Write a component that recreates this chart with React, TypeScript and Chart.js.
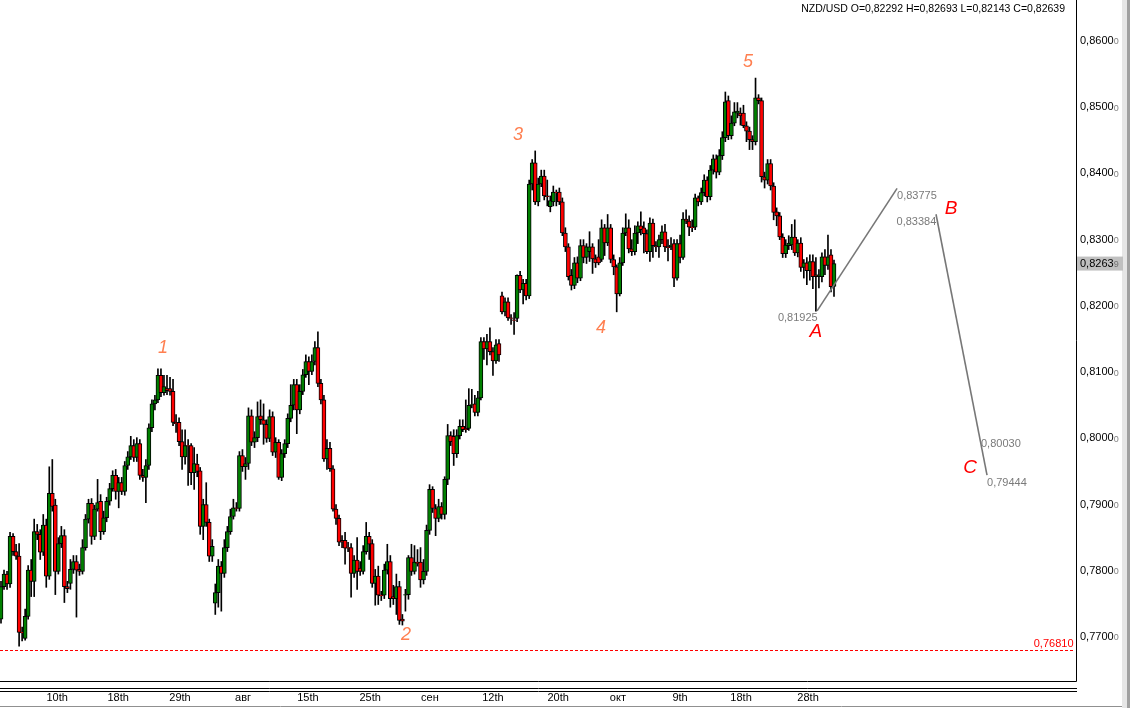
import React, { useEffect, useRef } from "react";
import { Chart, registerables } from "chart.js";

Chart.register(...registerables);

// ---- candle data (prices in pips, /10000) ----
const opens = [
7727,7776,7795,7780,7852,7829,7822,7707,7698,7731,
7801,7784,7859,7855,7828,7869,7792,7917,7899,7799,
7841,7853,7776,7781,7802,7814,7802,7799,7835,7878,
7902,7852,7893,7905,7859,7880,7905,7924,7944,7920,
7933,7920,7959,7972,7989,7971,7992,7944,7941,7959,
8016,8052,8058,8095,8069,8075,8075,8071,8024,8024,
7995,7972,7989,7989,7948,7961,7951,7867,7900,7873,
7822,7751,7767,7807,7796,7835,7859,7882,7895,7894,
7974,7957,7962,8034,7994,8001,8034,8028,8021,8000,
8033,7979,7994,7941,7977,7992,8030,8050,8081,8043,
8071,8096,8116,8101,8116,8137,8083,8058,7969,7985,
7954,7893,7879,7846,7846,7835,7835,7796,7816,7804,
7799,7829,7852,7841,7781,7792,7763,7763,7801,7814,
7761,7758,7776,7727,7763,7764,7820,7799,7813,7813,
7786,7799,7861,7923,7894,7879,7897,7885,7938,8004,
8003,7977,8004,8018,8015,8015,8050,8052,8039,8061,
8146,8135,8146,8131,8117,8143,8215,8191,8206,8182,
8179,8181,8246,8224,8234,8215,8384,8416,8357,8384,
8396,8366,8350,8357,8372,8372,8357,8310,8289,8246,
8231,8265,8242,8291,8273,8282,8289,8271,8274,8270,
8318,8295,8318,8270,8259,8218,8265,8310,8318,8286,
8282,8310,8321,8318,8309,8282,8325,8291,8289,8300,
8312,8289,8289,8294,8242,8294,8273,8331,8328,8319,
8319,8363,8357,8371,8390,8365,8405,8422,8402,8427,
8454,8510,8457,8476,8491,8491,8491,8472,8464,8451,
8448,8514,8510,8395,8390,8415,8381,8342,8336,8304,
8279,8291,8292,8304,8280,8295,8258,8265,8253,8267,
8247,8244,8244,8274,8261,8277,8229.2
];
const highs = [
7784,7801,7799,7858,7856,7840,7841,7715,7742,7808,
7817,7878,7870,7862,7885,7878,7957,7968,7908,7850,
7867,7862,7784,7817,7823,7823,7810,7847,7885,7908,
7909,7899,7938,7915,7890,7911,7932,7951,7953,7941,
7941,7965,7980,8003,7998,8001,7998,7953,7968,8022,
8058,8065,8105,8105,8095,8095,8092,8089,8036,8031,
8013,8013,7998,7992,7986,7976,7956,7908,7933,7878,
7847,7780,7817,7814,7847,7867,7893,7908,7903,7980,
7983,7971,8046,8043,8010,8055,8058,8052,8028,8043,
8040,8001,7998,7983,7998,8037,8081,8089,8089,8081,
8104,8126,8123,8126,8146,8161,8089,8065,7998,7994,
7959,7900,7884,7853,7858,7843,7841,7823,7850,7814,
7838,7873,7858,7847,7802,7807,7769,7810,7840,7823,
7778,7795,7784,7734,7772,7823,7840,7838,7832,7835,
7817,7869,7930,7927,7900,7908,7903,7942,8021,8010,
8013,8013,8028,8028,8058,8075,8074,8065,8071,8152,
8152,8157,8167,8137,8149,8149,8221,8212,8212,8187,
8190,8247,8252,8240,8240,8390,8421,8434,8393,8405,
8405,8390,8366,8381,8375,8378,8363,8318,8294,8255,
8273,8274,8300,8300,8294,8312,8294,8277,8300,8330,
8323,8338,8323,8277,8262,8273,8318,8339,8330,8300,
8321,8327,8342,8327,8315,8333,8331,8297,8307,8321,
8323,8300,8303,8300,8300,8307,8341,8345,8336,8330,
8369,8366,8378,8398,8395,8412,8428,8428,8436,8463,
8523,8517,8487,8507,8507,8499,8503,8478,8470,8457,
8544,8519,8514,8402,8421,8421,8386,8348,8341,8309,
8300,8306,8323,8330,8300,8303,8270,8273,8277,8277,
8273,8255,8280,8285,8307,8285,8269.3
];
const lows = [
7721,7772,7772,7775,7823,7817,7686,7694,7695,7727,
7761,7761,7847,7817,7823,7775,7787,7890,7764,7795,
7835,7752,7767,7772,7796,7730,7793,7795,7831,7872,
7840,7847,7890,7847,7855,7874,7899,7920,7908,7895,
7915,7914,7953,7968,7965,7965,7938,7935,7903,7953,
8010,8043,8054,8063,8065,8066,8065,8019,8009,7989,
7953,7961,7929,7930,7923,7942,7855,7847,7867,7814,
7814,7734,7745,7739,7790,7829,7855,7878,7890,7890,
7950,7938,7953,7989,7986,7995,8021,7991,7994,7995,
7974,7971,7938,7936,7971,7986,8025,8043,8007,8037,
8066,8092,8081,8096,8111,8078,8052,7965,7953,7950,
7890,7870,7838,7835,7810,7829,7760,7790,7772,7793,
7795,7825,7817,7775,7748,7749,7755,7758,7795,7745,
7749,7734,7719,7718,7739,7757,7793,7795,7807,7775,
7780,7793,7855,7888,7853,7874,7878,7878,7930,7989,
7959,7971,7999,8010,8009,8012,8046,8034,8034,8058,
8119,8111,8126,8095,8113,8116,8188,8185,8178,8172,
8157,8176,8220,8203,8209,8211,8375,8353,8351,8380,
8360,8351,8342,8351,8351,8353,8306,8282,8239,8224,
8226,8235,8238,8265,8264,8267,8249,8258,8262,8267,
8276,8291,8265,8247,8191,8215,8261,8306,8280,8276,
8277,8294,8307,8280,8279,8267,8273,8282,8273,8294,
8282,8268,8285,8229,8239,8265,8270,8324,8306,8312,
8315,8351,8353,8366,8357,8360,8399,8393,8398,8421,
8448,8451,8452,8472,8484,8473,8469,8448,8436,8436,
8443,8505,8387,8378,8384,8375,8330,8321,8300,8273,
8273,8285,8285,8276,8274,8252,8242,8232,8239,8226,
8192,8227,8236,8247,8255,8221,8214.3
];
const closes = [
7776,7795,7780,7852,7829,7822,7707,7706,7731,7801,
7784,7859,7855,7828,7869,7792,7917,7897,7799,7841,
7853,7776,7773,7802,7814,7801,7799,7835,7878,7902,
7852,7893,7903,7859,7880,7905,7924,7944,7920,7933,
7920,7959,7972,7989,7971,7992,7944,7941,7959,8016,
8052,8058,8095,8069,8078,8072,8071,8024,8022,7995,
7972,7989,7988,7948,7962,7950,7867,7900,7873,7822,
7837,7767,7807,7796,7835,7859,7882,7895,7894,7974,
7957,7962,8034,7994,8001,8033,8028,8021,8000,8033,
7979,7994,7941,7977,7992,8030,8050,8081,8043,8071,
8096,8116,8101,8116,8137,8083,8058,7969,7985,7954,
7893,7879,7843,7843,7834,7834,7796,7816,7799,7799,
7829,7852,7840,7781,7792,7763,7762,7801,7814,7758,
7758,7776,7725,7724,7764,7820,7799,7813,7811,7786,
7799,7861,7923,7894,7879,7897,7885,7938,8004,7995,
7977,8004,8018,8013,8013,8050,8051,8039,8061,8146,
8135,8146,8131,8117,8141,8126,8191,8206,8182,8181,
8178,8246,8224,8234,8215,8384,8416,8357,8384,8396,
8366,8365,8359,8372,8371,8357,8310,8289,8244,8231,
8265,8242,8291,8273,8289,8289,8271,8265,8265,8318,
8295,8318,8270,8259,8218,8265,8310,8318,8286,8282,
8310,8321,8315,8309,8282,8325,8291,8289,8300,8312,
8289,8288,8292,8242,8294,8273,8331,8328,8319,8318,
8363,8357,8371,8390,8365,8405,8422,8402,8427,8454,
8508,8457,8476,8493,8494,8487,8472,8464,8451,8448,
8514,8510,8395,8390,8415,8381,8341,8336,8304,8279,
8292,8295,8304,8280,8295,8258,8265,8253,8267,8244,
8244,8247,8274,8261,8274,8229,8263.9
];

// ---- axis ticks ----
const yTicks = [0.77, 0.78, 0.79, 0.8, 0.81, 0.82, 0.83, 0.84, 0.85, 0.86];
const xTickLabels = ["10th", "18th", "29th", "авг", "15th", "25th", "сен", "12th", "20th", "окт", "9th", "18th", "28th"];
const xTickPos = [18.6, 38.8, 59.3, 80.2, 101.7, 122.3, 142.1, 163.0, 184.6, 204.4, 225.0, 245.2, 267.4];

// ---- annotations ----
const waveText = ["1", "2", "3", "4", "5", "A", "B", "C"];
const waveIdx = [53.7, 134.2, 171.3, 198.8, 247.5, 270.0, 314.8, 321.1];
const wavePrice = [0.814, 0.7706, 0.8461, 0.8169, 0.8571, 0.8164, 0.835, 0.7959];
const waveColor = ["#FF7F50", "#FF7F50", "#FF7F50", "#FF7F50", "#FF7F50", "#FF0000", "#FF0000", "#FF0000"];

const projAIdx = [270.4, 296.9];
const projAPrice = [0.81925, 0.83775];
const projBIdx = [309.8, 326.7];
const projBPrice = [0.83384, 0.79444];

const levelText = ["0,81925", "0,83775", "0,83384", "0,80030", "0,79444"];
const levelIdx = [270.6, 296.9, 309.9, 324.7, 326.7];
const levelPrice = [0.81925, 0.83775, 0.83384, 0.8003, 0.79444];
const levelAlign = ["right", "left", "right", "left", "left"];

const supportLevel = 0.7681;
const header = "NZD/USD O=0,82292 H=0,82693 L=0,82143 C=0,82639";
const lastPrice = 0.82639;

const FONT = '"Liberation Sans", Arial, sans-serif';

export default function App() {
  const ref = useRef<HTMLCanvasElement | null>(null);

  useEffect(() => {
    document.body.style.margin = "0";
    const canvas = ref.current;
    if (!canvas) return;
    const n = opens.length;
    const step = 833 / (n - 1);
    const xMin = -1 / step;
    const xMax = xMin + 1077 / step;
    const yMax = 0.86 + 41 / 6622;
    const yMin = 0.86 - 641 / 6622;

    const wickData = opens.map((_, i) => ({ x: i, y: [lows[i] / 1e4, highs[i] / 1e4] }));
    const bodyData = opens.map((o, i) => ({ x: i, y: [o / 1e4, closes[i] / 1e4] }));
    const bodyColors = opens.map((o, i) => (closes[i] >= o ? "#008000" : "#FF0000"));

    const overlay = {
      id: "overlay",
      afterDraw(chart: any) {
        const { ctx, chartArea: ca, scales } = chart;
        const x = scales.x;
        const y = scales.y;
        const W = chart.width;
        ctx.save();
        // right grey strip
        ctx.fillStyle = "#e6e6e6";
        ctx.fillRect(W - 16, 0, 5, chart.height);
        ctx.fillStyle = "#a0a0a0";
        ctx.fillRect(W - 11, 0, 3, chart.height);
        // frame
        const r = Math.floor(ca.right) - 0.5;
        const b = Math.floor(ca.bottom) - 0.5;
        ctx.strokeStyle = "#000";
        ctx.lineWidth = 1;
        ctx.beginPath();
        ctx.moveTo(r, 0);
        ctx.lineTo(r, b);
        ctx.lineTo(0, b);
        ctx.moveTo(0, b + 7);
        ctx.lineTo(r + 0.5, b + 7);
        ctx.moveTo(0, b + 10);
        ctx.lineTo(r + 0.5, b + 10);
        ctx.stroke();
        ctx.strokeStyle = "#909090";
        ctx.beginPath();
        ctx.moveTo(0, chart.height - 1.5);
        ctx.lineTo(W - 16, chart.height - 1.5);
        ctx.stroke();

        // support level (dashed red)
        const sy = Math.round(y.getPixelForValue(supportLevel)) + 0.5;
        ctx.strokeStyle = "#FF0000";
        ctx.setLineDash([3, 2]);
        ctx.beginPath();
        ctx.moveTo(0, sy);
        ctx.lineTo(r - 3, sy);
        ctx.stroke();
        ctx.setLineDash([]);

        // grey trailing digits of y labels
        ctx.textBaseline = "middle";
        ctx.textAlign = "left";
        yTicks.forEach((v) => {
          ctx.font = `11px ${FONT}`;
          const w = ctx.measureText(v.toFixed(4).replace(".", ",")).width;
          ctx.font = `9px ${FONT}`;
          ctx.fillStyle = "#808080";
          ctx.fillText("0", ca.right + 3 + w, y.getPixelForValue(v) + 1);
        });

        // current price box
        const py = y.getPixelForValue(lastPrice);
        ctx.fillStyle = "#c0c0c0";
        ctx.fillRect(ca.right, py - 7, 46, 14);
        ctx.font = `11px ${FONT}`;
        const main = lastPrice.toFixed(5).replace(".", ",").slice(0, 6);
        ctx.fillStyle = "#000";
        ctx.fillText(main, ca.right + 3, py);
        const mw = ctx.measureText(main).width;
        ctx.font = `9px ${FONT}`;
        ctx.fillStyle = "#707070";
        ctx.fillText(lastPrice.toFixed(5).slice(-1), ca.right + 3 + mw, py + 1);

        // header
        ctx.font = `10.5px ${FONT}`;
        ctx.fillStyle = "#000";
        ctx.textAlign = "right";
        ctx.fillText(header, 1065, 9);

        // support label
        ctx.font = `11px ${FONT}`;
        ctx.fillStyle = "#FF0000";
        ctx.fillText(supportLevel.toFixed(5).replace(".", ","), r - 3, sy - 7);

        // projection level labels
        ctx.fillStyle = "#7a7a7a";
        levelText.forEach((t, i) => {
          ctx.textAlign = levelAlign[i] as CanvasTextAlign;
          ctx.fillText(t, x.getPixelForValue(levelIdx[i]), y.getPixelForValue(levelPrice[i]) + 7.5);
        });

        // wave labels
        ctx.textAlign = "center";
        waveText.forEach((t, i) => {
          ctx.font = i < 5 ? `italic 18px ${FONT}` : `italic 19px ${FONT}`;
          ctx.fillStyle = waveColor[i];
          ctx.fillText(t, x.getPixelForValue(waveIdx[i]), y.getPixelForValue(wavePrice[i]) + 2);
        });
        ctx.restore();
      },
    };

    const chart = new Chart(canvas, {
      type: "bar",
      data: {
        datasets: [
          {
            type: "line",
            data: projAIdx.map((v, i) => ({ x: v, y: projAPrice[i] })),
            borderColor: "#777777",
            borderWidth: 1.6,
            pointRadius: 0,
            order: 0,
          } as any,
          {
            type: "line",
            data: projBIdx.map((v, i) => ({ x: v, y: projBPrice[i] })),
            borderColor: "#777777",
            borderWidth: 1.6,
            pointRadius: 0,
            order: 0,
          } as any,
          {
            data: bodyData as any,
            backgroundColor: bodyColors,
            borderColor: "#000000",
            borderWidth: 1,
            borderSkipped: false,
            barThickness: 4,
            grouped: false,
            order: 1,
          } as any,
          {
            data: wickData as any,
            backgroundColor: "#000000",
            borderWidth: 0,
            barThickness: 1,
            grouped: false,
            order: 2,
          } as any,
        ],
      },
      options: {
        animation: false,
        responsive: false,
        maintainAspectRatio: false,
        layout: { padding: 0 },
        plugins: { legend: { display: false }, tooltip: { enabled: false } },
        scales: {
          x: {
            type: "linear",
            min: xMin,
            max: xMax,
            offset: false,
            grid: { display: false, drawTicks: false },
            border: { display: false },
            afterBuildTicks: (s: any) => {
              s.ticks = xTickPos.map((v) => ({ value: v }));
            },
            afterFit: (s: any) => {
              s.height = 26;
              s.paddingLeft = 0;
              s.paddingRight = 0;
            },
            ticks: {
              autoSkip: false,
              maxRotation: 0,
              padding: 9,
              color: "#000",
              font: { family: FONT, size: 11 },
              callback: (_v: any, i: number) => xTickLabels[i],
            },
          },
          y: {
            position: "right",
            min: yMin,
            max: yMax,
            grid: { display: false, drawTicks: false },
            border: { display: false },
            afterBuildTicks: (s: any) => {
              s.ticks = yTicks.map((v) => ({ value: v }));
            },
            afterFit: (s: any) => {
              s.width = 61;
              s.paddingTop = 0;
              s.paddingBottom = 0;
            },
            ticks: {
              padding: 3,
              color: "#000",
              font: { family: FONT, size: 11 },
              callback: (v: any) => Number(v).toFixed(4).replace(".", ","),
            },
          },
        },
      } as any,
      plugins: [overlay],
    });
    return () => chart.destroy();
  }, []);

  return (
    <div style={{ width: 1138, height: 708, position: "relative", background: "#fff" }}>
      <canvas ref={ref} width={1138} height={708} style={{ width: 1138, height: 708, display: "block" }} />
    </div>
  );
}
